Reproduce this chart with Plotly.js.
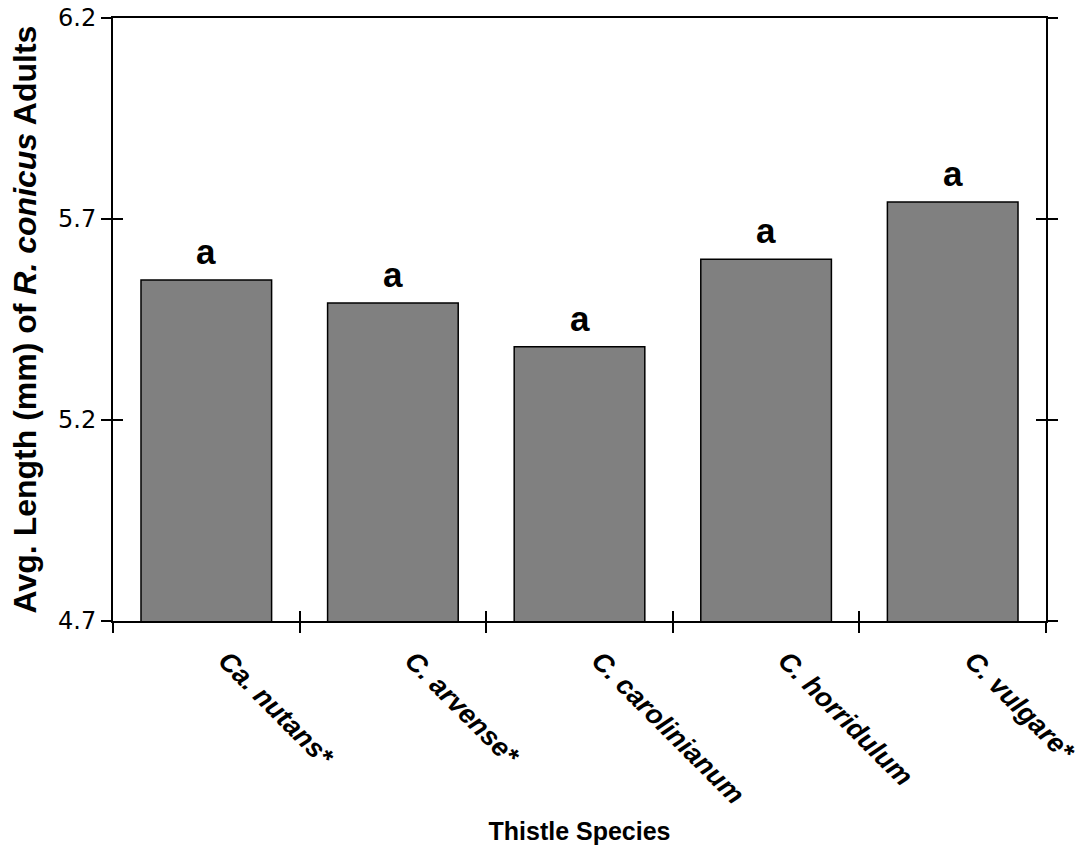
<!DOCTYPE html>
<html>
<head>
<meta charset="utf-8">
<script src="https://cdn.plot.ly/plotly-3.0.1.min.js"></script>
<style>html,body{margin:0;padding:0;background:#fff;}#chart{width:1085px;height:847px;}</style>
</head>
<body>
<div id="chart"></div>
<script>
const categories = ["Ca. nutans*", "C. arvense*", "C. carolinianum", "C. horridulum", "C. vulgare*"];
const avgLength = [5.548, 5.491, 5.382, 5.600, 5.742];
const groupLetters = ["a", "a", "a", "a", "a"];
const yTicks = [4.7, 5.2, 5.7, 6.2];

const FONT = "Arial, 'Liberation Sans', sans-serif";
const WIDE = "'DejaVu Sans', Arial, sans-serif";

const bars = {
  type: "bar",
  x: categories,
  y: avgLength,
  marker: { color: "#808080", line: { color: "#000", width: 1.5 } },
  hoverinfo: "x+y",
  showlegend: false
};
const boundaryVals = categories.map((_, i) => i - 0.5).concat([categories.length - 0.5]);
const overlay = { type: "scatter", x: [], y: [], xaxis: "x2", yaxis: "y2", showlegend: false, hoverinfo: "skip" };

const annotations = categories.map((c, i) => ({
  x: c, y: avgLength[i], xref: "x", yref: "y",
  text: "<b>" + groupLetters[i] + "</b>",
  showarrow: false, yanchor: "bottom", yshift: 7,
  font: { family: FONT, size: 35, color: "#000" }
}));

const layout = {
  width: 1085, height: 847,
  margin: { l: 113, r: 39, t: 18, b: 226 },
  paper_bgcolor: "#fff", plot_bgcolor: "#fff",
  bargap: 0.3,
  font: { family: FONT, color: "#000" },
  xaxis: {
    type: "category", categoryarray: categories, categoryorder: "array",
    range: [-0.5, categories.length - 0.5],
    showline: true, linecolor: "#000", linewidth: 2, mirror: true,
    ticks: "outside", ticklen: 10, tickwidth: 2, tickcolor: "#000",
    tickson: "boundaries",
    tickangle: 45,
    ticklabelstandoff: 11,
    ticklabelshift: 20,
    tickfont: { family: FONT, size: 27, color: "#000", weight: "bold", style: "italic" },
    title: { text: "<b>Thistle Species</b>", font: { family: FONT, size: 25, color: "#000" }, standoff: 14 },
    automargin: false,
    showgrid: false, zeroline: false, fixedrange: true
  },
  yaxis: {
    range: [4.7, 6.2], tickvals: yTicks, ticktext: yTicks.map(v => v.toFixed(1)),
    showline: true, linecolor: "#000", linewidth: 2, mirror: "ticks",
    ticks: "outside", ticklen: 10, tickwidth: 2, tickcolor: "#000",
    tickfont: { family: WIDE, size: 24, color: "#000" },
    title: { text: "<b>Avg. Length (mm) of <i>R. conicus</i> Adults</b>", font: { family: FONT, size: 32, color: "#000" }, standoff: 12 },
    automargin: false,
    showgrid: false, zeroline: false, fixedrange: true
  },
  xaxis2: {
    overlaying: "x", anchor: "y2", range: [-0.5, categories.length - 0.5],
    tickvals: boundaryVals, ticks: "inside", ticklen: 10, tickwidth: 2, tickcolor: "#000",
    showticklabels: false, showgrid: false, zeroline: false, showline: false, fixedrange: true
  },
  yaxis2: {
    overlaying: "y", anchor: "x2", range: [4.7, 6.2], tickvals: yTicks,
    ticks: "inside", ticklen: 10, tickwidth: 2, tickcolor: "#000", mirror: "ticks",
    showline: false, showticklabels: false, showgrid: false, zeroline: false, fixedrange: true
  },
  annotations: annotations
};

Plotly.newPlot("chart", [bars, overlay], layout, { displayModeBar: false, staticPlot: true });
</script>
</body>
</html>
